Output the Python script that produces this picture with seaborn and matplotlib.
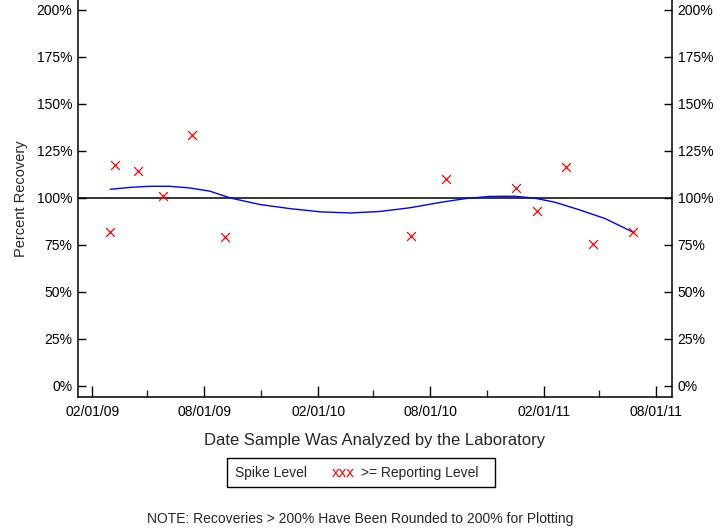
import matplotlib
matplotlib.use("Agg")
import matplotlib.pyplot as plt
import matplotlib.dates as mdates
from matplotlib.patches import Rectangle
import pandas as pd
import seaborn as sns

# sample dates and percent recoveries (all >= reporting level)
sample_dates = ["2009-03-02", "2009-03-09", "2009-04-16", "2009-05-27", "2009-07-13",
                "2009-09-03", "2010-07-01", "2010-08-27", "2010-12-18", "2011-01-21",
                "2011-03-08", "2011-04-22", "2011-06-25"]
recovery = [81.8, 117.5, 114.5, 100.8, 133.4, 79.3, 80.0, 110.0, 105.2, 92.9,
            116.3, 75.4, 81.8]

# smoothed curve
curve_dates = ["2009-03-02", "2009-04-03", "2009-05-05", "2009-06-06", "2009-07-09",
               "2009-08-10", "2009-09-12", "2009-10-30", "2009-12-18", "2010-02-05",
               "2010-03-25", "2010-05-12", "2010-06-30", "2010-08-17", "2010-09-26",
               "2010-11-05", "2010-12-15", "2011-01-17", "2011-02-19", "2011-03-31",
               "2011-05-11", "2011-06-25"]
curve_values = [104.6, 105.6, 106.2, 106.2, 105.3, 103.6, 100.0, 96.5, 94.3, 92.6,
                92.0, 92.8, 94.8, 97.6, 99.6, 100.8, 100.9, 99.9, 97.7, 93.6,
                89.0, 81.8]

tick_dates = ["2009-02-01", "2009-08-01", "2010-02-01", "2010-08-01", "2011-02-01", "2011-08-01"]
y_ticks = [0, 25, 50, 75, 100, 125, 150, 175, 200]

df = pd.DataFrame({"date": pd.to_datetime(sample_dates), "pct": recovery})
curve = pd.DataFrame({"date": pd.to_datetime(curve_dates), "pct": curve_values})

sns.set_style("white")
plt.rcParams['font.family'] = ['Liberation Sans', 'DejaVu Sans']

fig = plt.figure(figsize=(7.2, 5.28), dpi=100)
ax = fig.add_axes([78/720, 1 - 397/528, (672 - 78)/720, 397/528])

ax.axhline(100, color="black", lw=1.1, zorder=1)
sns.lineplot(data=curve, x="date", y="pct", color="blue", lw=1.0, ax=ax, zorder=2)
sns.scatterplot(data=df, x="date", y="pct", marker="x", color="red", s=40,
                linewidth=0.9, ax=ax, zorder=3)

ax.set_xlim(pd.Timestamp("2009-01-09"), pd.Timestamp("2011-08-27"))
ax.set_ylim(-5.9, 205.3)

ax.set_xticks(pd.to_datetime(tick_dates))
ax.xaxis.set_major_formatter(mdates.DateFormatter("%m/%d/%y"))
ax.xaxis.set_minor_locator(mdates.MonthLocator(bymonth=[5, 11]))
ax.set_yticks(y_ticks)
ax.set_yticklabels([f"{v}%" for v in y_ticks])

ax.tick_params(axis="x", which="major", direction="in", length=8, width=1, bottom=True,
               labelsize=10, pad=6, colors="black")
ax.tick_params(axis="x", which="minor", direction="in", length=5, width=1, bottom=True)
ax.tick_params(axis="y", direction="in", length=6, width=1, left=True, right=True,
               labelleft=True, labelright=True, labelsize=10, pad=4, colors="black")

for side in ["left", "right", "bottom"]:
    ax.spines[side].set_color("black")
    ax.spines[side].set_linewidth(1.1)
ax.spines["top"].set_visible(False)

ax.set_xlabel("Date Sample Was Analyzed by the Laboratory", fontsize=12, labelpad=10)
ax.set_ylabel("Percent Recovery", fontsize=10.5, labelpad=6)

# legend box
fig.patches.append(Rectangle((227/720, 1 - 487/528), (495 - 227)/720, 29/528,
                             transform=fig.transFigure, fill=False, edgecolor="black", lw=1))
fig.text(235/720, 1 - 473/528, "Spike Level", fontsize=10, va="center")
fig.text(332/720, 1 - 473/528, "xxx", fontsize=11, color="red", va="center")
fig.text(361/720, 1 - 473/528, ">= Reporting Level", fontsize=10, va="center")

fig.text(0.5, 1 - 519/528, "NOTE: Recoveries > 200% Have Been Rounded to 200% for Plotting",
         fontsize=10, ha="center", va="center")

fig.savefig("out.png", dpi=100)
